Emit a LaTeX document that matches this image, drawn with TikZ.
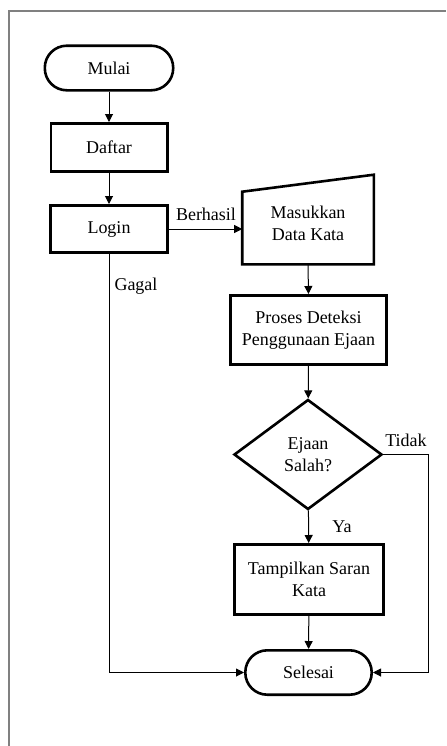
\documentclass[tikz,border=0pt]{standalone}
\usepackage{fontspec}
\setmainfont{Liberation Serif}
\usetikzlibrary{positioning,arrows.meta,shapes.geometric}

\begin{document}
\begin{tikzpicture}[x=0.5pt, y=-0.5pt,
  every node/.style={font=\fontsize{9}{11}\selectfont, align=center},
  terminal/.style={draw, line width=1.3pt, rounded corners=11pt, inner sep=0pt},
  proses/.style={draw, line width=1.3pt, inner sep=0pt},
  keputusan/.style={draw, diamond, line width=1.3pt, inner sep=0pt},
  panah/.style={line width=0.5pt, -{Triangle[length=4pt,width=4pt]}},
  ket/.style={inner sep=0pt}]
  %----- ukuran gambar dan bingkai -----
  \useasboundingbox (0,0) rectangle (446,746);
  \draw[gray, line width=1pt] (9,746) -- (9,11) -- (446,11);

  %----- simbol-simbol -----
  \node[terminal, minimum width=64.2pt, minimum height=22.3pt] (mulai) at (109,68) {Mulai};
  \node[proses, minimum width=58.2pt, minimum height=24.2pt] (daftar) at (109,147.5) {Daftar};
  \node[proses, minimum width=58.7pt, minimum height=23.7pt] (login) at (109,229) {Login};
  % input manual: kotak tanpa garis, trapesium digambar sendiri
  \node[proses, draw=none, minimum width=64.5pt, minimum height=40pt] (masuk) at (308,223) {Masukkan\\Data Kata};
  \draw[line width=1.3pt] (masuk.south west) -- (masuk.south east)
    -- ([yshift=3.5pt]masuk.north east) -- ([yshift=-5pt]masuk.north west) -- cycle;
  \node[proses, minimum width=78.2pt, minimum height=34.7pt] (deteksi) at (308.5,330) {Proses Deteksi\\Penggunaan Ejaan};
  \node[keputusan, minimum width=74pt, minimum height=55pt] (cek) at (308,454.5) {Ejaan\\Salah?};
  \node[proses, minimum width=74.7pt, minimum height=35.2pt] (saran) at (309,579.5) {Tampilkan Saran\\Kata};
  \node[terminal, minimum width=63.2pt, minimum height=22.2pt] (selesai) at (308.5,672.5) {Selesai};

  %----- keterangan jalur -----
  \node[ket] (berhasil) at (206,214) {Berhasil};
  \node[ket] (gagal) at (136,286) {Gagal};
  \node[ket] (tidak) at (406,440) {Tidak};
  \node[ket] (ya) at (342,527) {Ya};

  %----- alur -----
  \draw[panah] (mulai) -- (daftar);
  \draw[panah] (daftar) -- (login);
  \draw[panah] (login.east) -- (login.east -| masuk.west);
  \draw[panah] (masuk.south) -- (deteksi.north);
  \draw[panah] (deteksi) -- (cek);
  \draw[panah] (cek) -- (saran);
  \draw[panah] (saran) -- (selesai);
  \draw[panah] (login.south) |- (selesai.west);
  \draw[panah] (cek.east) -- ++(45,0) |- (selesai.east);
\end{tikzpicture}
\end{document}
